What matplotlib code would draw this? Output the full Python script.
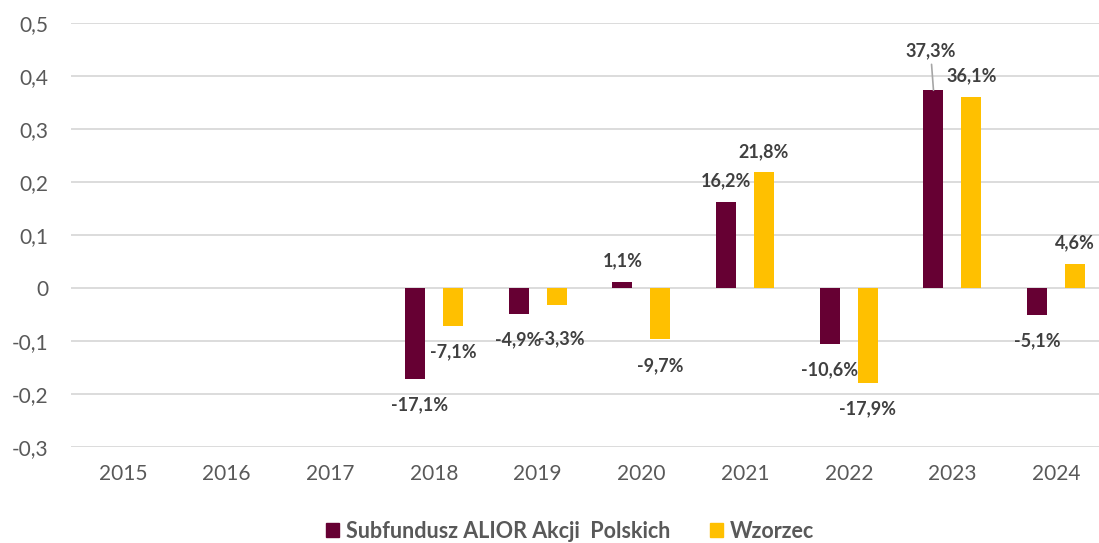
# Wykres: roczne stopy zwrotu subfunduszu i wzorca
import numpy as np
import matplotlib
matplotlib.use('Agg')
import matplotlib.pyplot as plt
from matplotlib.patches import Patch

plt.rcParams['font.family'] = ['Lato', 'DejaVu Sans']

# Dane
lata = ['2015', '2016', '2017', '2018', '2019', '2020', '2021', '2022', '2023', '2024']
subfundusz = [np.nan, np.nan, np.nan, -0.171, -0.049, 0.011, 0.162, -0.106, 0.373, -0.051]
wzorzec = [np.nan, np.nan, np.nan, -0.071, -0.033, -0.097, 0.218, -0.179, 0.361, 0.046]
y_ticki = [-0.3, -0.2, -0.1, 0.0, 0.1, 0.2, 0.3, 0.4, 0.5]
y_etykiety = ['-0,3', '-0,2', '-0,1', '0', '0,1', '0,2', '0,3', '0,4', '0,5']
nazwy = ['Subfundusz ALIOR Akcji  Polskich', 'Wzorzec']

kolor_sub = '#660033'
kolor_wz = '#FFC000'
szary = '#595959'

fig = plt.figure(figsize=(10.99, 5.43), dpi=100)
W, H = 1099, 543
ax = fig.add_axes([71 / W, 1 - 447 / H, 1 - 71 / W, (447 - 23) / H])

x = np.arange(len(lata))
szer = 0.193
przes = 0.183
ax.bar(x - przes, subfundusz, width=szer, color=kolor_sub, zorder=3)
ax.bar(x + przes, wzorzec, width=szer, color=kolor_wz, zorder=3)

ax.set_xlim(-0.5, 9.413)
ax.set_ylim(-0.3, 0.5)
ax.set_yticks(y_ticki)
ax.set_yticklabels(y_etykiety)
ax.set_xticks(x)
ax.set_xticklabels(lata)
ax.yaxis.grid(True, color='#D9D9D9', lw=1.3)
ax.set_axisbelow(True)
for s in ax.spines.values():
    s.set_visible(False)
ax.tick_params(axis='y', length=0, pad=16, labelsize=15, labelcolor=szary)
ax.tick_params(axis='x', length=0, pad=12, labelsize=15, labelcolor=szary)


def fmt(v):
    return ('%.1f%%' % (v * 100)).replace('.', ',')


# przesunięcia etykiet (piksele) odbiegające od domyślnych
wyjatki = {('s', 3): (5, 26), ('w', 4): (5, 33), ('s', 8): (-3, -40)}

for seria, dane, dx in (('s', subfundusz, -przes), ('w', wzorzec, przes)):
    for i, v in enumerate(dane):
        if np.isnan(v):
            continue
        off = (0, -21) if v >= 0 else (0, 26)
        off = wyjatki.get((seria, i), off)
        strz = None
        if (seria, i) == ('s', 8):
            strz = dict(arrowstyle='-', color='#A6A6A6', lw=1.2, shrinkA=2, shrinkB=0)
        ax.annotate(fmt(v), (i + dx, v), xytext=(off[0], -off[1]),
                    textcoords='offset pixels', ha='center', va='center',
                    fontsize=13, fontweight='bold', color='#404040',
                    arrowprops=strz, zorder=4)

uchwyty = [Patch(color=kolor_sub), Patch(color=kolor_wz)]
leg = fig.legend(uchwyty, nazwy, loc='center', bbox_to_anchor=(570 / W, 1 - 531 / H),
                 ncol=2, frameon=False, handlelength=0.6, handleheight=0.6,
                 handletextpad=0.3, columnspacing=1.85,
                 prop=dict(size=15.5, weight='bold'))
for t in leg.get_texts():
    t.set_color(szary)

fig.savefig('out.png', dpi=100)
